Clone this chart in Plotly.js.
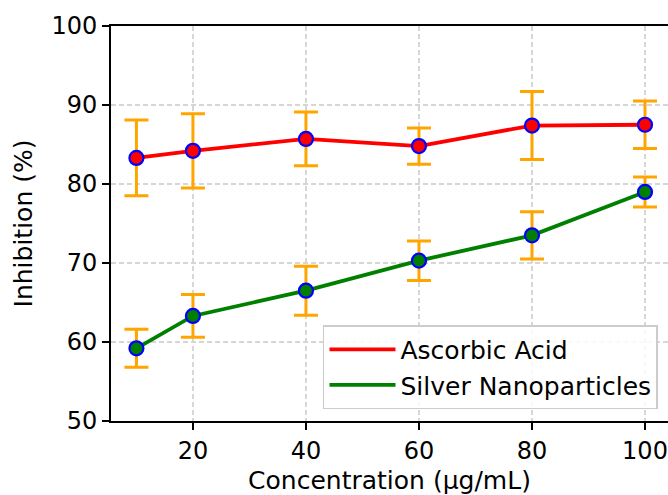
<!DOCTYPE html>
<html>
<head>
<meta charset="utf-8">
<script src="https://cdn.plot.ly/plotly-3.0.1.min.js"></script>
<style>
  html, body { margin: 0; padding: 0; background: #ffffff; }
  #chart { width: 668px; height: 495px; }
</style>
</head>
<body>
<div id="chart"></div>
<script>
// Concentrations tested (µg/mL)
const concentration = [10, 20, 40, 60, 80, 100];

// Mean inhibition (%) and standard deviation for each treatment
const ascorbicAcid = [83.3, 84.2, 85.7, 84.8, 87.4, 87.5];
const ascorbicAcidSd = [4.8, 4.7, 3.4, 2.3, 4.3, 3.0];

const silverNanoparticles = [59.2, 63.3, 66.5, 70.3, 73.5, 79.0];
const silverNanoparticlesSd = [2.4, 2.7, 3.1, 2.5, 3.0, 1.9];

const seriesNames = ['Ascorbic Acid', 'Silver Nanoparticles'];
const seriesColors = ['#ff0000', '#008000'];

const FONT = 'DejaVu Sans, Liberation Sans, sans-serif';
const FS = 25;      // titles and legend
const TICK_FS = 24; // tick labels

function dataTrace(y, sd, color) {
  return {
    x: concentration,
    y: y,
    type: 'scatter',
    mode: 'lines+markers',
    showlegend: false,
    line: { color: color, width: 3.8 },
    marker: { size: 14, color: color, line: { color: '#0000ff', width: 2.2 } },
    error_y: { type: 'data', array: sd, visible: true, color: '#ffa500', thickness: 3, width: 12 }
  };
}

// Legend entries show the line style only
function legendTrace(name, color) {
  return {
    x: [null], y: [null],
    type: 'scatter', mode: 'lines',
    name: name,
    line: { color: color, width: 3.8 }
  };
}

const traces = [
  dataTrace(ascorbicAcid, ascorbicAcidSd, seriesColors[0]),
  dataTrace(silverNanoparticles, silverNanoparticlesSd, seriesColors[1]),
  legendTrace(seriesNames[0], seriesColors[0]),
  legendTrace(seriesNames[1], seriesColors[1])
];

const gridStyle = { showgrid: true, gridcolor: '#d6d6d6', gridwidth: 1.4, griddash: '5px,3px' };

const layout = {
  width: 668,
  height: 495,
  margin: { l: 111, r: 0, t: 26, b: 74 },
  paper_bgcolor: '#ffffff',
  plot_bgcolor: '#ffffff',
  font: { family: FONT, size: FS, color: '#000000' },
  xaxis: Object.assign({
    range: [5.5, 104.07],
    tickmode: 'linear', tick0: 0, dtick: 20,
    showline: true, linecolor: '#000000', linewidth: 2, mirror: true,
    ticks: 'outside', ticklen: 7, tickwidth: 1.6, tickcolor: '#000000',
    tickfont: { family: FONT, size: TICK_FS },
    ticklabeloverflow: 'allow',
    zeroline: false,
    title: { text: 'Concentration (μg/mL)', font: { family: FONT, size: FS }, standoff: 9 }
  }, gridStyle),
  yaxis: Object.assign({
    range: [50, 100],
    tickmode: 'linear', tick0: 50, dtick: 10,
    showline: true, linecolor: '#000000', linewidth: 2, mirror: false,
    ticks: 'outside', ticklen: 7, tickwidth: 1.6, tickcolor: '#000000',
    tickfont: { family: FONT, size: TICK_FS },
    zeroline: false,
    title: { text: 'Inhibition (%)', font: { family: FONT, size: FS }, standoff: 12 }
  }, gridStyle),
  legend: {
    x: 0.3806, y: 0.03, xanchor: 'left', yanchor: 'bottom',
    bgcolor: 'rgba(255,255,255,0.85)',
    bordercolor: '#cccccc', borderwidth: 1.5,
    font: { family: FONT, size: FS },
    itemwidth: 66,
    tracegroupgap: 0
  }
};

Plotly.newPlot('chart', traces, layout, { staticPlot: true, displayModeBar: false });
</script>
</body>
</html>
